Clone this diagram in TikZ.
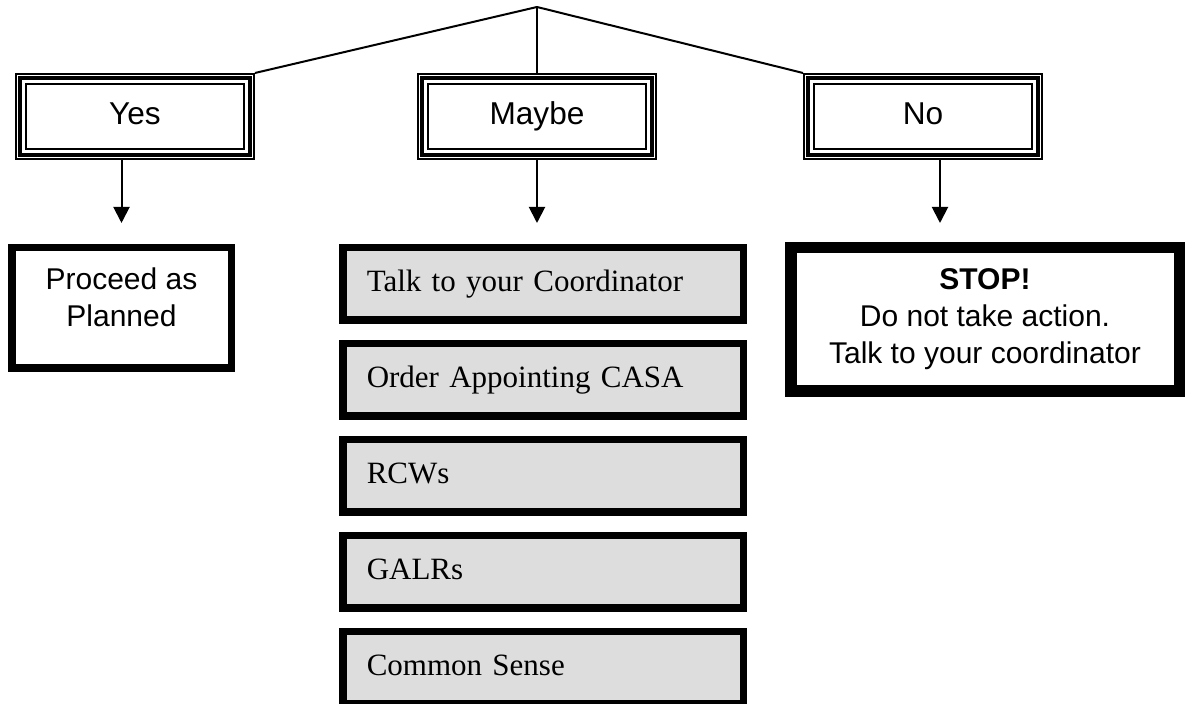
\documentclass[tikz,border=0pt]{standalone}
\usepackage{fontspec}
\setmainfont{Liberation Serif}
\setsansfont{Liberation Sans}
\usetikzlibrary{positioning,arrows.meta}
\definecolor{boxgray}{RGB}{221,221,221}
\begin{document}
\begin{tikzpicture}[x=1pt,y=1pt,
  tribox/.style={draw,line width=1pt,minimum width=119pt,minimum height=42.5pt,
    inner sep=0pt,text height=11pt,text depth=3pt,font=\sffamily\fontsize{15.8}{18.5}\selectfont},
  graybox/.style={draw,fill=boxgray,line width=3.75pt,text width=176.25pt,inner xsep=12pt,
    inner ysep=0pt,minimum height=36.25pt,text height=10.5pt,text depth=3.4pt,align=left,
    font=\fontsize{15.5}{18}\selectfont},
  heavybox/.style={draw,align=center,inner sep=2pt,font=\sffamily\fontsize{15}{18.5}\selectfont},
  link/.style={line width=1pt},
  arr/.style={line width=1pt,-{Triangle[width=8pt,length=8pt]}}]
\useasboundingbox (0,0) rectangle (598,352);
% answers
\coordinate (apex) at (268.5,348.5);
\node[tribox] (yes) at (67.5,293.75) {Yes};
\node[tribox] (maybe) at (268.5,293.75) {Maybe};
\node[tribox] (no) at (461.5,293.75) {No};
\foreach \n in {yes,maybe,no}{
  \draw[line width=2.25pt] ([shift={(2.5pt,2.5pt)}]\n.south west) rectangle ([shift={(-2.5pt,-2.5pt)}]\n.north east);
  \draw[line width=1pt] ([shift={(5.5pt,5.5pt)}]\n.south west) rectangle ([shift={(-5.5pt,-5.5pt)}]\n.north east);
}
\draw[link] (apex) -- (yes.north east);
\draw[link] (apex) -- (maybe.north);
\draw[link] (apex) -- (no.north west);
% what to do
\node[heavybox,line width=3.75pt,minimum width=109.75pt,minimum height=60.25pt,text depth=10.7pt]
  (proceed) at (60.75,198) {Proceed as\\Planned};
\node[graybox] (talk) at (271.5,210) {Talk to your Coordinator};
\node[graybox,below=8pt of talk] (order) {Order Appointing CASA};
\node[graybox,below=8pt of order] (rcw) {RCWs};
\node[graybox,below=8pt of rcw] (galr) {GALRs};
\node[graybox,below=8pt of galr] (sense) {Common Sense};
\node[heavybox,line width=5.75pt,minimum width=194.25pt,minimum height=71.75pt]
  (stop) at (492.5,192.25) {\textbf{STOP!}\\Do not take action.\\Talk to your coordinator};
\draw[arr] (yes.south -| proceed.north) -- ++(0,-31.5);
\draw[arr] (maybe.south) -- ++(0,-31.5);
\draw[arr] ([xshift=8.5pt]no.south) -- ++(0,-31.5);
\end{tikzpicture}
\end{document}
